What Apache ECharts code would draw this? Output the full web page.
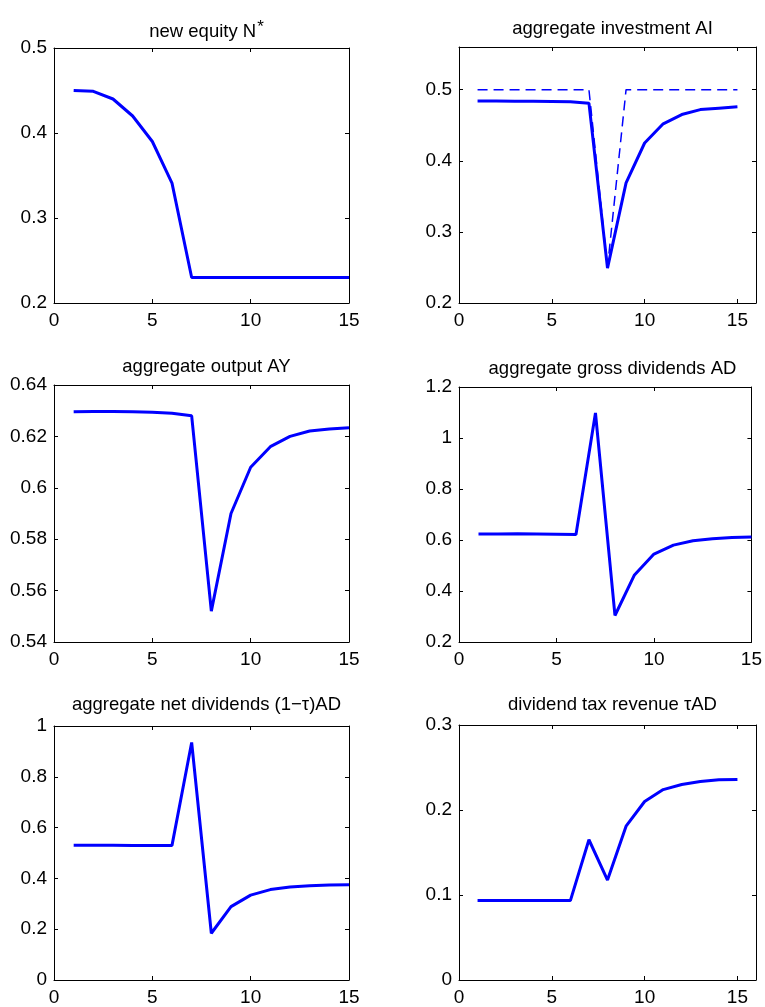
<!DOCTYPE html>
<html>
<head>
<meta charset="utf-8">
<script src="https://cdn.jsdelivr.net/npm/echarts@6/dist/echarts.min.js"></script>
<style>
  html, body { margin: 0; padding: 0; background: #fff; }
  #chart { width: 765px; height: 1007px; }
</style>
</head>
<body>
<div id="chart"></div>
<script>
// periods on the x axis
const periods = [1, 2, 3, 4, 5, 6, 7, 8, 9, 10, 11, 12, 13, 14, 15]

// series
const newEquity = [0.450, 0.449, 0.440, 0.420, 0.390, 0.341, 0.230, 0.230, 0.230, 0.230, 0.230, 0.230, 0.230, 0.230, 0.230]
const investment = [0.484, 0.484, 0.4838, 0.4836, 0.4834, 0.483, 0.481, 0.249, 0.369, 0.425, 0.452, 0.465, 0.472, 0.474, 0.476]
const investmentRef = [0.5, 0.5, 0.5, 0.5, 0.5, 0.5, 0.5, 0.25, 0.5, 0.5, 0.5, 0.5, 0.5, 0.5, 0.5]
const output = [0.6296, 0.6297, 0.6297, 0.6296, 0.6294, 0.629, 0.628, 0.552, 0.590, 0.608, 0.616, 0.620, 0.6221, 0.6229, 0.6234]
const grossDividends = [0.6235, 0.624, 0.6245, 0.624, 0.623, 0.622, 1.098, 0.304, 0.463, 0.545, 0.580, 0.597, 0.605, 0.610, 0.612]
const netDividends = [0.531, 0.531, 0.531, 0.530, 0.530, 0.530, 0.935, 0.184, 0.289, 0.334, 0.356, 0.366, 0.371, 0.374, 0.375]
const taxRevenue = [0.0934, 0.0935, 0.0936, 0.0935, 0.0935, 0.0934, 0.165, 0.1176, 0.181, 0.210, 0.224, 0.230, 0.2335, 0.2355, 0.236]

const titles = [
  'new equity N{sup|*}',
  'aggregate investment AI',
  'aggregate output AY',
  'aggregate gross dividends AD',
  'aggregate net dividends (1\u2212\u03c4)AD',
  'dividend tax revenue \u03c4AD'
]

const FONT = '"Liberation Sans", Arial, Helvetica, sans-serif'
const BLUE = '#0000ff'

// layout of the six panels (pixels)
const panels = [
  { left: 54, top: 48, width: 295, height: 255, xMax: 15, yMin: 0.2, yMax: 0.5, yInt: 0.1, titleTop: 14, lines: [newEquity] },
  { left: 459, top: 47, width: 297, height: 256, xMax: 16, yMin: 0.2, yMax: 0.56, yInt: 0.1, titleTop: 14, lines: [investment], dashed: investmentRef },
  { left: 54, top: 385, width: 295, height: 257, xMax: 15, yMin: 0.54, yMax: 0.64, yInt: 0.02, titleTop: 352, lines: [output] },
  { left: 459, top: 387, width: 297, height: 255, xMax: 15, yMin: 0.2, yMax: 1.2, yInt: 0.2, titleTop: 354, lines: [grossDividends] },
  { left: 54, top: 726, width: 295, height: 255, xMax: 15, yMin: 0, yMax: 1, yInt: 0.2, titleTop: 690, lines: [netDividends] },
  { left: 459, top: 725, width: 297, height: 256, xMax: 16, yMin: 0, yMax: 0.3, yInt: 0.1, titleTop: 690, lines: [taxRevenue] }
]

const toPairs = vals => periods.map((p, i) => [p, vals[i]])

const axisLine = { show: true, onZero: false, lineStyle: { color: '#000', width: 1 } }
const tick = { show: true, inside: true, length: 4, lineStyle: { color: '#000' } }
const label = { color: '#000', fontSize: 19, fontFamily: FONT }

let grid = [], xAxis = [], yAxis = [], series = [], title = []

panels.forEach((p, i) => {
  grid.push({ left: p.left, top: p.top, width: p.width, height: p.height })
  title.push({
    text: titles[i],
    left: p.left + p.width / 2,
    top: p.titleTop,
    textAlign: 'center',
    textStyle: {
      fontSize: 18.5, fontWeight: 'normal', color: '#000', fontFamily: FONT,
      rich: { sup: { fontSize: 17, verticalAlign: 'top', padding: [0, 0, 8, 1], color: '#000', fontFamily: FONT } }
    }
  })
  // bottom + top x axes
  xAxis.push({
    gridIndex: i, type: 'value', min: 0, max: p.xMax, interval: 5, position: 'bottom',
    axisLine, axisTick: tick, splitLine: { show: false },
    axisLabel: Object.assign({ margin: 8, showMaxLabel: p.xMax === 15 }, label)
  })
  xAxis.push({
    gridIndex: i, type: 'value', min: 0, max: p.xMax, interval: 5, position: 'top',
    axisLine, axisTick: tick, splitLine: { show: false }, axisLabel: { show: false }
  })
  // left + right y axes
  yAxis.push({
    gridIndex: i, type: 'value', min: p.yMin, max: p.yMax, interval: p.yInt, position: 'left',
    axisLine, axisTick: tick, splitLine: { show: false },
    axisLabel: Object.assign({ margin: 7, showMaxLabel: p.yMax !== 0.56 }, label)
  })
  yAxis.push({
    gridIndex: i, type: 'value', min: p.yMin, max: p.yMax, interval: p.yInt, position: 'right',
    axisLine, axisTick: tick, splitLine: { show: false }, axisLabel: { show: false }
  })
  if (p.dashed) {
    series.push({
      type: 'line', xAxisIndex: 2 * i, yAxisIndex: 2 * i, data: toPairs(p.dashed),
      symbol: 'none', silent: true, z: 1,
      lineStyle: { color: BLUE, width: 1.5, type: [10, 6] }
    })
  }
  p.lines.forEach(vals => {
    series.push({
      type: 'line', xAxisIndex: 2 * i, yAxisIndex: 2 * i, data: toPairs(vals),
      symbol: 'none', silent: true, z: 2,
      lineStyle: { color: BLUE, width: 3 }
    })
  })
})

const chart = echarts.init(document.getElementById('chart'))
chart.setOption({ animation: false, backgroundColor: '#fff', title, grid, xAxis, yAxis, series })
</script>
</body>
</html>
